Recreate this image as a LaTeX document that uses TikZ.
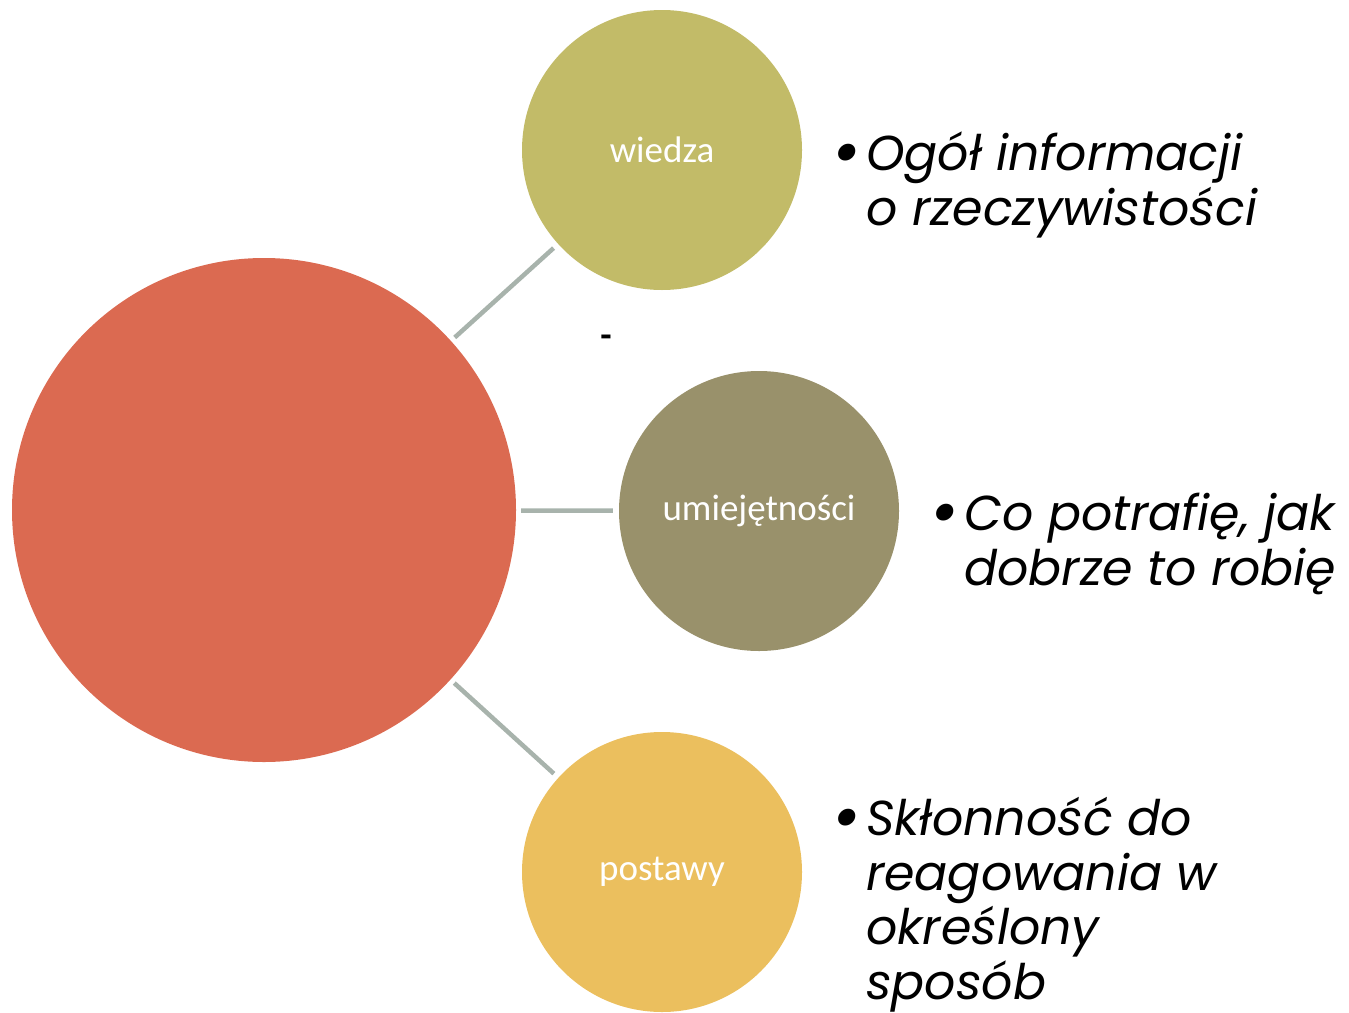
\documentclass[tikz,border=0pt]{standalone}
\usepackage{fontspec}
\setmainfont{Carlito}
\newfontfamily\notefont{Poppins}
\usetikzlibrary{positioning}

\definecolor{corered}{HTML}{DB6A51}
\definecolor{wiedzagreen}{HTML}{C2BB68}
\definecolor{umiejolive}{HTML}{99916B}
\definecolor{postawygold}{HTML}{EBBF5E}
\definecolor{linkgrey}{HTML}{A8B3AC}

\newcommand{\notebullet}{\llap{\raisebox{-5pt}{\scalebox{1.4}{\textbullet}}\hspace{5pt}}}

\begin{document}
\begin{tikzpicture}[x=1pt,y=-1pt,
    topic/.style={circle,minimum size=280pt,inner sep=0pt,text=white,font=\fontsize{37}{44}\selectfont},
    link/.style={draw=linkgrey,line width=4.5pt,shorten <=5pt,shorten >=6pt},
    note/.style={anchor=base west,align=left,inner sep=0pt,font=\notefont\itshape\fontsize{49}{54.5}\selectfont}]
    \useasboundingbox (0,0) rectangle (1349,1012);

    \node[circle,fill=corered,minimum size=504pt,inner sep=0pt] (core) at (264, 510) {};

    \node[topic,fill=wiedzagreen] (wiedza) at (662, 150) {wiedza};
    \node[topic,fill=umiejolive] (umiej) at (759, 511) {umiejętności};
    \node[topic,fill=postawygold] (postawy) at (662, 872) {postawy};

    \draw[link] (core) -- (wiedza);
    \draw[link] (core) -- (umiej);
    \draw[link] (core) -- (postawy);

    \node (dash) at (606, 341) {\fontsize{37}{44}\selectfont\bfseries -};

    % opisy (kotwica = linia bazowa ostatniego wiersza)
    \node[note] (n1) at (866, 225) {\notebullet Ogół informacji\\o rzeczywistości};
    \node[note] (n2) at (964, 585) {\notebullet Co potrafię, jak\\dobrze to robię};
    \node[note] (n3) at (866, 999) {\notebullet Skłonność do\\reagowania w\\określony\\sposób};
\end{tikzpicture}
\end{document}
